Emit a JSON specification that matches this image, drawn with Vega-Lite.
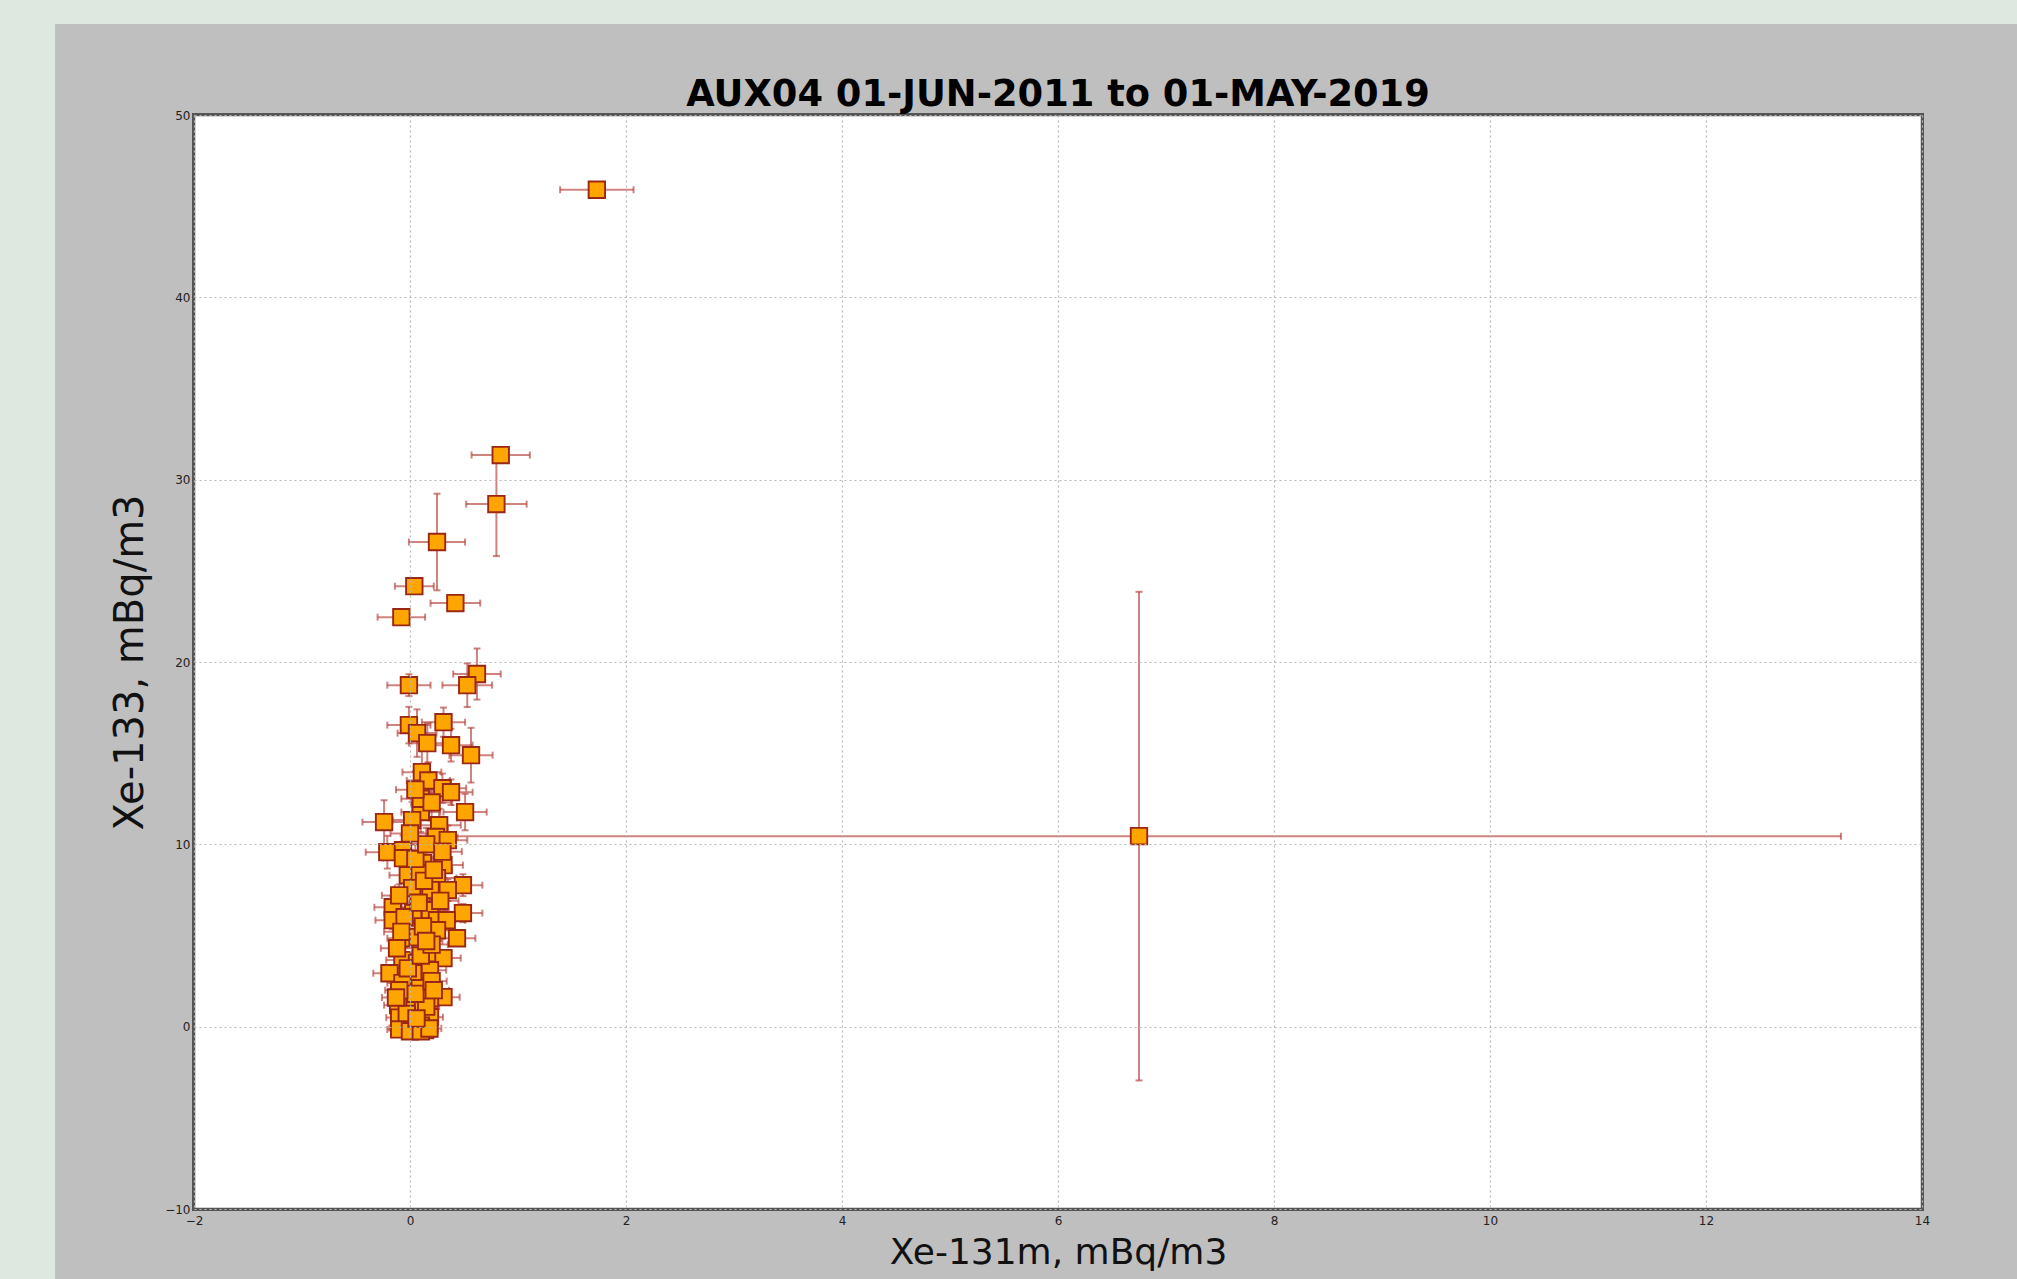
{
  "$schema": "https://vega.github.io/schema/vega-lite/v6.json",
  "width": 1728,
  "height": 1094,
  "autosize": {"type": "none"},
  "padding": {"left": 194, "top": 115, "right": 95, "bottom": 70},
  "background": "#dde9e0",
  "config": {"view": {"stroke": null, "fill": null}},
  "title": {"text": "AUX04 01-JUN-2011 to 01-MAY-2019", "font": "DejaVu Sans", "fontWeight": "bold", "fontSize": 36.8, "color": "#000000", "offset": -118, "baseline": "alphabetic", "anchor": "middle", "frame": "group"},
  "data": {"values": [
    {"x": 1.73, "y": 45.9, "xe": 0.34, "ye": 0.3},
    {"x": 0.84, "y": 31.35, "xe": 0.27, "ye": 0.4},
    {"x": 0.80, "y": 28.66, "xe": 0.28, "ye": 2.85},
    {"x": 0.25, "y": 26.58, "xe": 0.26, "ye": 2.65},
    {"x": 0.04, "y": 24.16, "xe": 0.18, "ye": 0.4},
    {"x": 0.42, "y": 23.23, "xe": 0.23, "ye": 0.4},
    {"x": -0.08, "y": 22.46, "xe": 0.22, "ye": 0.4},
    {"x": 6.75, "y": 10.45, "xe": 6.5, "ye": 13.4},
    {"x": 0.62, "y": 19.34, "xe": 0.22, "ye": 1.4},
    {"x": 0.53, "y": 18.73, "xe": 0.23, "ye": 1.2},
    {"x": -0.01, "y": 18.73, "xe": 0.2, "ye": 0.6},
    {"x": -0.01, "y": 16.54, "xe": 0.2, "ye": 1.0},
    {"x": 0.065, "y": 16.1, "xe": 0.18, "ye": 1.3},
    {"x": 0.31, "y": 16.7, "xe": 0.2, "ye": 0.8},
    {"x": 0.16, "y": 15.55, "xe": 0.17, "ye": 1.1},
    {"x": 0.38, "y": 15.44, "xe": 0.2, "ye": 0.9},
    {"x": 0.565, "y": 14.89, "xe": 0.2, "ye": 1.5},
    {"x": 0.11, "y": 13.96, "xe": 0.18, "ye": 1.2},
    {"x": 0.17, "y": 13.5, "xe": 0.2, "ye": 1.0},
    {"x": 0.30, "y": 13.08, "xe": 0.22, "ye": 0.8},
    {"x": 0.38, "y": 12.86, "xe": 0.2, "ye": 0.7},
    {"x": 0.51, "y": 11.77, "xe": 0.2, "ye": 1.0},
    {"x": 0.10, "y": 11.77, "xe": 0.18, "ye": 1.1},
    {"x": 0.02, "y": 11.33, "xe": 0.18, "ye": 1.0},
    {"x": -0.24, "y": 11.22, "xe": 0.2, "ye": 1.2},
    {"x": 0.27, "y": 11.05, "xe": 0.2, "ye": 0.9},
    {"x": 0.24, "y": 10.4, "xe": 0.2, "ye": 1.0},
    {"x": 0.35, "y": 10.23, "xe": 0.18, "ye": 0.8},
    {"x": -0.21, "y": 9.57, "xe": 0.2, "ye": 0.9},
    {"x": -0.065, "y": 9.68, "xe": 0.18, "ye": 0.8},
    {"x": -0.065, "y": 9.24, "xe": 0.18, "ye": 0.9},
    {"x": 0.12, "y": 8.97, "xe": 0.18, "ye": 0.8},
    {"x": 0.31, "y": 8.86, "xe": 0.18, "ye": 0.7},
    {"x": -0.02, "y": 8.31, "xe": 0.17, "ye": 0.8},
    {"x": 0.09, "y": 8.42, "xe": 0.17, "ye": 0.7},
    {"x": 0.25, "y": 8.15, "xe": 0.18, "ye": 0.7},
    {"x": 0.49, "y": 7.76, "xe": 0.18, "ye": 0.6},
    {"x": 0.02, "y": 7.6, "xe": 0.16, "ye": 0.7},
    {"x": 0.19, "y": 7.49, "xe": 0.17, "ye": 0.6},
    {"x": 0.35, "y": 7.49, "xe": 0.17, "ye": 0.6},
    {"x": -0.16, "y": 6.55, "xe": 0.17, "ye": 0.6},
    {"x": 0.03, "y": 6.23, "xe": 0.16, "ye": 0.6},
    {"x": 0.185, "y": 6.39, "xe": 0.16, "ye": 0.6},
    {"x": 0.49, "y": 6.23, "xe": 0.18, "ye": 0.5},
    {"x": -0.16, "y": 5.84, "xe": 0.16, "ye": 0.5},
    {"x": 0.25, "y": 5.84, "xe": 0.17, "ye": 0.5},
    {"x": 0.34, "y": 5.84, "xe": 0.17, "ye": 0.5},
    {"x": -0.05, "y": 4.85, "xe": 0.16, "ye": 0.5},
    {"x": 0.07, "y": 4.91, "xe": 0.16, "ye": 0.5},
    {"x": 0.25, "y": 5.29, "xe": 0.16, "ye": 0.5},
    {"x": 0.435, "y": 4.85, "xe": 0.17, "ye": 0.4},
    {"x": -0.07, "y": 3.65, "xe": 0.15, "ye": 0.4},
    {"x": 0.17, "y": 4.03, "xe": 0.15, "ye": 0.4},
    {"x": 0.31, "y": 3.76, "xe": 0.16, "ye": 0.4},
    {"x": 0.065, "y": 3.48, "xe": 0.15, "ye": 0.4},
    {"x": -0.19, "y": 2.93, "xe": 0.15, "ye": 0.4},
    {"x": 0.03, "y": 2.93, "xe": 0.14, "ye": 0.4},
    {"x": 0.185, "y": 3.1, "xe": 0.15, "ye": 0.4},
    {"x": -0.07, "y": 2.39, "xe": 0.14, "ye": 0.3},
    {"x": 0.09, "y": 2.11, "xe": 0.14, "ye": 0.3},
    {"x": 0.31, "y": 1.62, "xe": 0.15, "ye": 0.3},
    {"x": 0.0, "y": 1.34, "xe": 0.13, "ye": 0.3},
    {"x": 0.185, "y": 1.56, "xe": 0.14, "ye": 0.3},
    {"x": -0.11, "y": 1.18, "xe": 0.13, "ye": 0.3},
    {"x": 0.12, "y": 0.9, "xe": 0.13, "ye": 0.25},
    {"x": -0.05, "y": 0.25, "xe": 0.12, "ye": 0.2},
    {"x": 0.07, "y": 0.19, "xe": 0.12, "ye": 0.2},
    {"x": 0.185, "y": 0.52, "xe": 0.12, "ye": 0.2},
    {"x": -0.07, "y": -0.08, "xe": 0.12, "ye": 0.15},
    {"x": 0.03, "y": -0.19, "xe": 0.12, "ye": 0.15},
    {"x": 0.14, "y": -0.19, "xe": 0.12, "ye": 0.15},
    {"x": -0.1, "y": 0.5, "xe": 0.12, "ye": 0.2},
    {"x": 0.0, "y": 0.0, "xe": 0.11, "ye": 0.15},
    {"x": 0.05, "y": -0.1, "xe": 0.11, "ye": 0.15},
    {"x": 0.1, "y": 0.05, "xe": 0.11, "ye": 0.15},
    {"x": -0.03, "y": 0.7, "xe": 0.12, "ye": 0.2},
    {"x": 0.15, "y": 1.1, "xe": 0.12, "ye": 0.25},
    {"x": 0.05, "y": 1.8, "xe": 0.13, "ye": 0.3},
    {"x": -0.1, "y": 2.0, "xe": 0.13, "ye": 0.3},
    {"x": 0.2, "y": 2.5, "xe": 0.14, "ye": 0.3},
    {"x": -0.02, "y": 3.2, "xe": 0.14, "ye": 0.35},
    {"x": 0.1, "y": 3.9, "xe": 0.15, "ye": 0.4},
    {"x": -0.12, "y": 4.3, "xe": 0.15, "ye": 0.4},
    {"x": 0.2, "y": 4.5, "xe": 0.15, "ye": 0.4},
    {"x": 0.12, "y": 5.5, "xe": 0.16, "ye": 0.5},
    {"x": -0.05, "y": 6.0, "xe": 0.16, "ye": 0.5},
    {"x": 0.08, "y": 6.8, "xe": 0.16, "ye": 0.6},
    {"x": 0.28, "y": 6.9, "xe": 0.17, "ye": 0.6},
    {"x": -0.1, "y": 7.2, "xe": 0.16, "ye": 0.6},
    {"x": 0.13, "y": 8.0, "xe": 0.17, "ye": 0.7},
    {"x": 0.05, "y": 9.2, "xe": 0.17, "ye": 0.8},
    {"x": 0.15, "y": 10.0, "xe": 0.18, "ye": 0.9},
    {"x": 0.0, "y": 10.6, "xe": 0.18, "ye": 0.9},
    {"x": 0.3, "y": 9.6, "xe": 0.18, "ye": 0.8},
    {"x": 0.1, "y": 12.5, "xe": 0.18, "ye": 1.0},
    {"x": 0.2, "y": 12.3, "xe": 0.19, "ye": 1.0},
    {"x": 0.05, "y": 13.0, "xe": 0.18, "ye": 1.0},
    {"x": -0.1, "y": -0.15, "xe": 0.11, "ye": 0.12},
    {"x": 0.0, "y": -0.25, "xe": 0.11, "ye": 0.12},
    {"x": 0.1, "y": -0.25, "xe": 0.11, "ye": 0.12},
    {"x": 0.18, "y": -0.1, "xe": 0.11, "ye": 0.12},
    {"x": -0.13, "y": 1.6, "xe": 0.13, "ye": 0.3},
    {"x": 0.22, "y": 2.0, "xe": 0.14, "ye": 0.3},
    {"x": 0.15, "y": 4.7, "xe": 0.15, "ye": 0.4},
    {"x": -0.08, "y": 5.2, "xe": 0.16, "ye": 0.5},
    {"x": 0.22, "y": 8.6, "xe": 0.17, "ye": 0.7},
    {"x": 0.06, "y": 0.45, "xe": 0.12, "ye": 0.2}
  ]},
  "layer": [
    {
      "mark": {"type": "rect", "fill": "#bfbfbf", "clip": false},
      "encoding": {
        "x": {"datum": -3.28, "type": "quantitative", "title": "Xe-131m, mBq/m3", "scale": {"domain": [-2, 14], "nice": false, "zero": false}},
        "x2": {"datum": 16},
        "y": {"datum": 54.95, "type": "quantitative", "title": "Xe-133, mBq/m3", "scale": {"domain": [-10, 50], "nice": false, "zero": false}},
        "y2": {"datum": -15}
      }
    },
    {
      "mark": {"type": "rect", "fill": "#ffffff", "stroke": "#555555", "strokeWidth": 2.5},
      "encoding": {
        "x": {"datum": -2, "type": "quantitative", "title": "Xe-131m, mBq/m3"},
        "x2": {"datum": 14},
        "y": {"datum": -10, "type": "quantitative", "title": "Xe-133, mBq/m3"},
        "y2": {"datum": 50}
      }
    },
    {
      "mark": {"type": "errorbar", "color": "#b5403a", "ticks": {"size": 7, "thickness": 2, "opacity": 0.65}, "rule": {"strokeWidth": 2, "opacity": 0.65}},
      "encoding": {
        "x": {"field": "x", "type": "quantitative", "title": "Xe-131m, mBq/m3"},
        "xError": {"field": "xe"},
        "y": {"field": "y", "type": "quantitative", "title": "Xe-133, mBq/m3"}
      }
    },
    {
      "mark": {"type": "errorbar", "color": "#b5403a", "ticks": {"size": 7, "thickness": 2, "opacity": 0.65}, "rule": {"strokeWidth": 2, "opacity": 0.65}},
      "encoding": {
        "y": {"field": "y", "type": "quantitative", "title": "Xe-133, mBq/m3"},
        "yError": {"field": "ye"},
        "x": {"field": "x", "type": "quantitative", "title": "Xe-131m, mBq/m3"}
      }
    },
    {
      "mark": {"type": "point", "shape": "square", "size": 270, "filled": true, "fill": "#ffa500", "stroke": "#9a2616", "strokeWidth": 1.9, "opacity": 1, "fillOpacity": 1, "strokeOpacity": 1},
      "encoding": {
        "x": {"field": "x", "type": "quantitative", "title": "Xe-131m, mBq/m3",
          "axis": {"values": [-2, 0, 2, 4, 6, 8, 10, 12, 14], "format": "d", "zindex": 1, "domain": false, "ticks": false, "labelFont": "DejaVu Sans", "labelFontSize": 12, "labelColor": "#222222", "labelPadding": 6, "labelFlush": false, "labelOverlap": false, "grid": true, "gridColor": "#b8b8b8", "gridDash": [2, 3], "gridWidth": 1.2, "titleFont": "DejaVu Sans", "titleFontSize": 36, "titleFontWeight": "normal", "titleColor": "#111111", "titlePadding": 9}},
        "y": {"field": "y", "type": "quantitative", "title": "Xe-133, mBq/m3",
          "axis": {"values": [-10, 0, 10, 20, 30, 40, 50], "format": "d", "zindex": 1, "domain": false, "ticks": false, "labelFont": "DejaVu Sans", "labelFontSize": 12, "labelColor": "#222222", "labelPadding": 4, "labelFlush": false, "labelOverlap": false, "grid": true, "gridColor": "#b8b8b8", "gridDash": [2, 3], "gridWidth": 1.2, "titleFont": "DejaVu Sans", "titleFontSize": 40, "titleFontWeight": "normal", "titleColor": "#111111", "titlePadding": 14}}
      }
    }
  ]
}
